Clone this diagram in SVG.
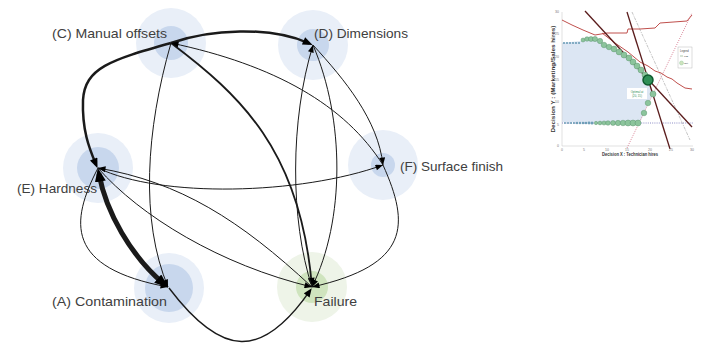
<svg xmlns="http://www.w3.org/2000/svg" width="703" height="349" viewBox="0 0 703 349">
<style>
.lbl{font-family:"Liberation Sans",Arial,sans-serif;font-size:13.5px;fill:#404040}
.ob{fill:#e9eff8}.ib{fill:#c8d7ed}.og{fill:#eef4e8}.ig{fill:#cfe4be}
.e{fill:none;stroke:#1a1a1a;stroke-width:1}
.tk{font-family:"Liberation Sans",Arial,sans-serif;font-size:3.5px;fill:#777}
.ax{font-family:"Liberation Sans",Arial,sans-serif;font-size:4.5px;font-weight:bold;fill:#333}
</style>
<defs>
<marker id="ah" viewBox="0 0 10 8" refX="10" refY="4" markerWidth="9" markerHeight="6" markerUnits="userSpaceOnUse" orient="auto"><path d="M0,0L10,4L0,8z" fill="#000"/></marker>
<marker id="ahm" viewBox="0 0 10 8" refX="7" refY="4" markerWidth="10" markerHeight="7" markerUnits="userSpaceOnUse" orient="auto"><path d="M0,0L10,4L0,8z" fill="#000"/></marker>
<marker id="ahl" viewBox="0 0 10 8" refX="6" refY="4" markerWidth="11" markerHeight="8" markerUnits="userSpaceOnUse" orient="auto"><path d="M0,0L10,4L0,8z" fill="#000"/></marker>
<marker id="ahx" viewBox="0 0 10 8" refX="5.5" refY="4" markerWidth="14" markerHeight="11" markerUnits="userSpaceOnUse" orient="auto-start-reverse"><path d="M0,0L10,4L0,8z" fill="#000"/></marker>
</defs>
<rect width="703" height="349" fill="#fff"/>

<g id="node-C"><circle class="ob" cx="171" cy="43" r="35"/><circle class="ib" cx="171" cy="43" r="17"/><text class="lbl" x="52" y="37.5" textLength="115" lengthAdjust="spacingAndGlyphs">(C) Manual offsets</text></g>
<g id="node-D"><circle class="ob" cx="313" cy="45" r="35"/><circle class="ib" cx="313" cy="45" r="16"/><text class="lbl" x="314" y="37.5" textLength="94" lengthAdjust="spacingAndGlyphs">(D) Dimensions</text></g>
<g id="node-F"><circle class="ob" cx="383" cy="165" r="35"/><circle class="ib" cx="383" cy="165" r="12"/><text class="lbl" x="400" y="170.7" textLength="103" lengthAdjust="spacingAndGlyphs">(F) Surface finish</text></g>
<g id="node-E"><circle class="ob" cx="98" cy="168" r="35"/><circle class="ib" cx="98" cy="168" r="21"/><text class="lbl" x="17" y="192.5" textLength="80" lengthAdjust="spacingAndGlyphs">(E) Hardness</text></g>
<g id="node-A"><circle class="ob" cx="169" cy="288" r="35"/><circle class="ib" cx="169" cy="288" r="24"/><text class="lbl" x="52" y="305.5" textLength="115" lengthAdjust="spacingAndGlyphs">(A) Contamination</text></g>
<g id="node-Failure"><circle class="og" cx="312" cy="287" r="35"/><circle class="ig" cx="312" cy="287" r="16"/><text class="lbl" x="314" y="305.5" textLength="43" lengthAdjust="spacingAndGlyphs">Failure</text></g>

<g id="connectors">
<path class="e" style="stroke-width:2.5" d="M171,43 C210,29 270,26 309,43.3" marker-end="url(#ahl)"/>
<path class="e" style="stroke-width:2.5" d="M171,43 C110,60 85,68 83,100 C82,130 89,148 96,164.5" marker-end="url(#ahl)"/>
<path class="e" style="stroke-width:1.8" d="M171,43 C240,95 300,150 311.7,284" marker-end="url(#ahm)"/>
<path class="e" d="M171,43 C146,130 140,220 168,287" marker-end="url(#ah)"/>
<path class="e" d="M383,165 C345,105 275,65 171,43" marker-end="url(#ah)"/>
<path class="e" d="M313,45 C345,80 378,120 383,165" marker-end="url(#ah)"/>
<path class="e" d="M312,287 C290,220 290,120 313,45" marker-end="url(#ah)"/>
<path class="e" d="M313,45 C345,120 345,220 312,287" marker-end="url(#ah)"/>
<path class="e" d="M98,168 C160,198 300,195 383,165" marker-end="url(#ah)"/>
<path class="e" d="M312,287 C240,220 180,182 98,168" marker-end="url(#ah)"/>
<path class="e" d="M98,168 C140,216 220,265 312,287" marker-end="url(#ah)"/>
<path class="e" d="M98,168 C70,222 65,268 168,287" marker-end="url(#ah)"/>
<path class="e" d="M383,165 C410,225 410,265 312,287" marker-end="url(#ah)"/>
<path class="e" style="stroke-width:1.4" d="M169,288 C222,358 262,360 310.2,290.4" marker-end="url(#ahm)"/>
<path class="e" style="stroke-width:5" d="M99,174 C106,212 131,256 163.5,283.5" marker-start="url(#ahx)" marker-end="url(#ahx)"/>
</g>

<g id="chart">
<polygon points="562,43 598,39 602,43 608,47 614,49 620,53 626,56 631,60 636,64 640,68 645,74 648,80 653,94 648,103 644,113 640,122 562,122" fill="#dce6f3"/>
<line x1="562" y1="12" x2="562" y2="146" stroke="#ccc" stroke-width="0.6"/>
<line x1="562" y1="146" x2="693" y2="146" stroke="#ccc" stroke-width="0.6"/>
<line x1="562" y1="123" x2="693" y2="123" stroke="#7070b8" stroke-width="0.8" stroke-dasharray="1,1.2"/>
<line x1="627" y1="148" x2="692" y2="13" stroke="#d06a80" stroke-width="0.8" stroke-dasharray="1,1.2"/>
<line x1="632" y1="12" x2="690" y2="140" stroke="#aaa" stroke-width="0.7" stroke-dasharray="3,1,1,1"/>
<polyline points="562,20 572,25 583,30 595,35 607,33 627,33 628,29 640,29 655,28 660,23 687,21 692,15" fill="none" stroke="#c0504d" stroke-width="1"/>
<polyline points="602,33 615,43 628,52 640,62 648,66 655,71 661,73 667,77 672,79 677,83 685,88 692,89" fill="none" stroke="#c0504d" stroke-width="1"/>
<line x1="585" y1="11" x2="692" y2="127" stroke="#5a1c1c" stroke-width="1.3"/>
<line x1="627" y1="12" x2="670" y2="149" stroke="#5a1c1c" stroke-width="1.3"/>
<g fill="#6f9fb8">
<circle cx="564" cy="43" r="1.1"/><circle cx="567" cy="43" r="1.1"/><circle cx="570" cy="43" r="1.1"/><circle cx="573" cy="43" r="1.1"/><circle cx="576" cy="43" r="1.1"/><circle cx="579" cy="43" r="1.1"/>
<circle cx="565" cy="123" r="1"/><circle cx="568" cy="123" r="1"/><circle cx="571" cy="123" r="1.1"/><circle cx="574" cy="123" r="1.1"/><circle cx="577" cy="123" r="1.2"/><circle cx="580" cy="123" r="1.2"/><circle cx="583" cy="123" r="1.3"/><circle cx="586" cy="123" r="1.3"/><circle cx="589" cy="123" r="1.4"/><circle cx="592" cy="123" r="1.5"/>
</g>
<g fill="#8cc49c" stroke="#4f8a62" stroke-width="0.4">
<circle cx="583" cy="40" r="2"/><circle cx="587" cy="39" r="2.3"/><circle cx="591" cy="39" r="2.5"/><circle cx="595" cy="39" r="2.6"/><circle cx="600" cy="41" r="2.7"/><circle cx="604" cy="45" r="2.8"/><circle cx="609" cy="47" r="2.8"/><circle cx="614" cy="49" r="2.9"/><circle cx="619" cy="52" r="2.9"/><circle cx="624" cy="55" r="3"/><circle cx="629" cy="58" r="3"/><circle cx="633" cy="62" r="3"/><circle cx="637" cy="66" r="3"/><circle cx="641" cy="70" r="3"/><circle cx="645" cy="75" r="3"/>
<circle cx="653" cy="94" r="3"/><circle cx="648" cy="103" r="2.8"/><circle cx="644" cy="113" r="2.8"/>
<circle cx="596" cy="123" r="1.7"/><circle cx="600" cy="123" r="1.9"/><circle cx="604" cy="123" r="2.1"/><circle cx="608" cy="123" r="2.3"/><circle cx="613" cy="123" r="2.5"/><circle cx="618" cy="123" r="2.7"/><circle cx="623" cy="123" r="2.8"/><circle cx="628" cy="123" r="3"/><circle cx="633" cy="123" r="3"/><circle cx="638" cy="123" r="3"/>
</g>
<circle cx="648" cy="80" r="5" fill="#2f8f57" stroke="#0e5a2e" stroke-width="1.5"/>
<rect x="627" y="88" width="20" height="11" fill="#fff"/>
<text x="637" y="92.5" text-anchor="middle" font-family="Liberation Sans, Arial, sans-serif" font-size="2.8" fill="#2f8f57">Optimal at</text>
<text x="637" y="96.5" text-anchor="middle" font-family="Liberation Sans, Arial, sans-serif" font-size="2.8" fill="#2f8f57">(20, 15)</text>
<rect x="678" y="47" width="14" height="21" fill="#fff" stroke="#aaa" stroke-width="0.4"/>
<text x="680" y="51.5" font-family="Liberation Sans, Arial, sans-serif" font-size="2.6" fill="#444">Legend</text>
<line x1="680" y1="56" x2="683" y2="56" stroke="#7aaa7a" stroke-width="0.6"/>
<text x="684" y="57" font-family="Liberation Sans, Arial, sans-serif" font-size="2.4" fill="#444">LTE</text>
<circle cx="681.5" cy="63" r="2" fill="#cfe4be" stroke="#8cc49c" stroke-width="0.4"/>
<text x="684" y="64" font-family="Liberation Sans, Arial, sans-serif" font-size="2.4" fill="#444">Opt</text>
<g class="tk" text-anchor="middle">
<text x="562" y="151">0</text><text x="584" y="151">5</text><text x="607" y="151">10</text><text x="627" y="151">15</text><text x="650" y="151">20</text><text x="671" y="151">25</text><text x="692" y="151">30</text>
</g>
<g class="tk" text-anchor="end">
<text x="559" y="147">0</text><text x="559" y="126">5</text><text x="559" y="103">10</text><text x="559" y="81">15</text><text x="559" y="58">20</text><text x="559" y="35">25</text><text x="559" y="13">30</text>
</g>
<text class="ax" x="630" y="156" text-anchor="middle" textLength="56" lengthAdjust="spacingAndGlyphs">Decision X : Technician hires</text>
<text class="ax" transform="translate(555,79) rotate(-90)" text-anchor="middle" textLength="107" lengthAdjust="spacingAndGlyphs">Decision Y : (Marketing/Sales hires)</text>
</g>
</svg>
